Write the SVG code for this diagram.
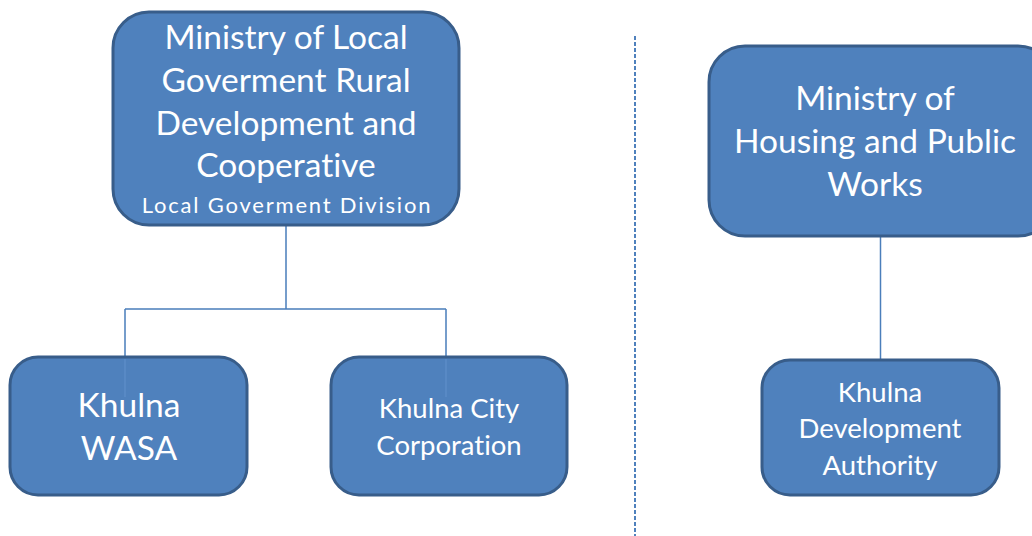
<svg xmlns="http://www.w3.org/2000/svg" width="1032" height="536" viewBox="0 0 1032 536">
<style>
.box{fill:#4f81bd;stroke:#385d8a;stroke-width:3}
.t{fill:#ffffff;font-family:Lato,"Open Sans","Liberation Sans",sans-serif;text-anchor:middle;font-variant-ligatures:none;font-feature-settings:"liga" 0,"dlig" 0}
.big{font-size:33.5px}
.mid{font-size:27.5px}
.sm{font-size:22px;letter-spacing:1.8px}
.c{fill:none;stroke:#4a7ebb;stroke-width:1.5}
.ci{fill:none;stroke:#5f8fca;stroke-width:1.2}
</style>
<rect width="1032" height="536" fill="#ffffff"/>
<g id="connectors">
<path class="c" d="M286 225 V309 M125 309 H446 M125 309 V357 M446 309 V357"/>
<path class="c" d="M880.5 236 V360"/>
<line x1="635" y1="36" x2="635" y2="536" stroke="#4f81bd" stroke-width="2" stroke-dasharray="4 2"/>
</g>
<g id="n-ministry-lgrd">
<rect class="box" x="113" y="12" width="346" height="213" rx="36"/>
<text class="t big" x="286" y="49">Ministry of Local</text>
<text class="t big" x="286" y="92">Goverment Rural</text>
<text class="t big" x="286" y="135">Development and</text>
<text class="t big" x="286" y="177">Cooperative</text>
<text class="t sm" x="287" y="213">Local Goverment Division</text>
</g>
<g id="n-khulna-wasa">
<rect class="box" x="10" y="357" width="237" height="138" rx="28"/>
<path class="ci" d="M125 359 V397"/>
<text class="t big" x="129" y="417">Khulna</text>
<text class="t big" x="129" y="460">WASA</text>
</g>
<g id="n-khulna-city">
<rect class="box" x="331" y="357" width="236" height="138" rx="28"/>
<path class="ci" d="M446 359 V397"/>
<text class="t mid" x="449" y="418">Khulna City</text>
<text class="t mid" x="449" y="455">Corporation</text>
</g>
<g id="n-ministry-housing">
<rect class="box" x="709" y="46" width="345" height="190" rx="36"/>
<text class="t big" x="875" y="110">Ministry of</text>
<text class="t big" x="875" y="153">Housing and Public</text>
<text class="t big" x="875" y="196">Works</text>
</g>
<g id="n-kda">
<rect class="box" x="762" y="360" width="237" height="135" rx="28"/>
<text class="t mid" x="880" y="402">Khulna</text>
<text class="t mid" x="880" y="438">Development</text>
<text class="t mid" x="880" y="475">Authority</text>
</g>
</svg>
